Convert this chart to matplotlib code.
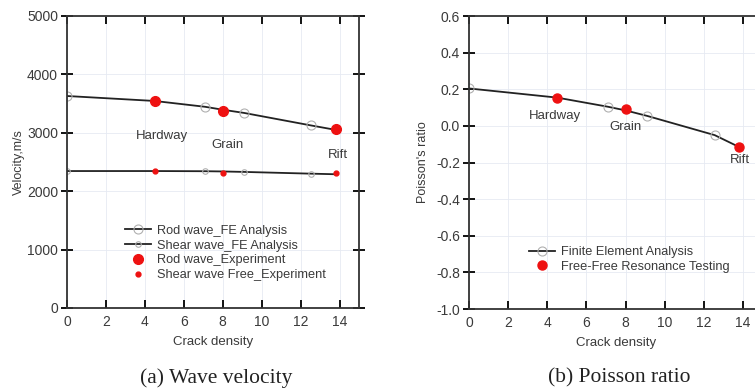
import numpy as np
import matplotlib
matplotlib.use("Agg")
import matplotlib.pyplot as plt

plt.rcParams['font.family'] = ['Liberation Sans', 'DejaVu Sans']

# crack density of the FE analysis points
fe_x = [0, 4.5, 7.1, 8.0, 9.1, 12.55, 13.8]
rod_fe = [3630, 3545, 3445, 3395, 3340, 3125, 3050]
shear_fe = [2345, 2345, 2342, 2338, 2330, 2300, 2290]
poisson_fe = [0.205, 0.155, 0.105, 0.085, 0.055, -0.050, -0.115]

# experiments (hardway, grain, rift)
exp_x = [4.5, 8.0, 13.8]
rod_exp = [3550, 3370, 3060]
shear_exp = [2345, 2305, 2320]
poisson_exp = [0.155, 0.092, -0.115]

names = ['Hardway', 'Grain', 'Rift']
name_pos_a = [(4.9, 2940), (8.25, 2790), (13.9, 2620)]
name_pos_b = [(4.4, 0.055), (8.0, -0.008), (13.85, -0.185)]

fe_marker_idx = [0, 2, 4, 5]  # FE points not hidden by experiments

txt = '#3a3a3a'
line_c = '#222222'
red = '#ee1111'


def style(ax, ylim, yticks):
    ax.set_xlim(0, 15)
    ax.set_ylim(*ylim)
    ax.set_xticks(np.arange(0, 15, 2))
    ax.set_yticks(yticks)
    ax.grid(True, color='#e6eaf2', lw=0.6)
    ax.tick_params(axis='x', direction='in', length=6, width=1.3, top=True,
                   labelsize=10, labelcolor=txt, pad=5)
    ax.tick_params(axis='y', direction='inout', length=9, width=1.3, right=True,
                   labelsize=10, labelcolor=txt, pad=2)
    for s in ax.spines.values():
        s.set_linewidth(1.3)
        s.set_color('#333333')
    ax.set_xlabel('Crack density', fontsize=9.5, color=txt, labelpad=5)


fig = plt.figure(figsize=(7.55, 3.91), dpi=100)
ax1 = fig.add_axes([0.0887, 0.2123, 0.3868, 0.7468])
ax2 = fig.add_axes([0.6212, 0.2097, 0.3889, 0.749])

# (a) wave velocity
xs = np.array(fe_x)
ax1.plot(fe_x, rod_fe, '-', color=line_c, lw=1.3, zorder=2)
ax1.plot(xs[fe_marker_idx], np.array(rod_fe)[fe_marker_idx], 'o', ms=6.5,
         mfc='none', mec='#b0b0b0', mew=0.8, zorder=2)
ax1.plot(fe_x, shear_fe, '-', color=line_c, lw=1.3, zorder=2)
ax1.plot(xs[fe_marker_idx], np.array(shear_fe)[fe_marker_idx], 'o', ms=4,
         mfc='none', mec='#b0b0b0', mew=0.8, zorder=2)
ax1.plot(exp_x, rod_exp, 'o', ms=7, color=red, zorder=3)
ax1.plot(exp_x, shear_exp, 'o', ms=3.5, color=red, zorder=3)
for n, (px, py) in zip(names, name_pos_a):
    ax1.text(px, py, n, ha='center', va='center', fontsize=9.5, color=txt)

h1 = [
    ax1.plot([], [], '-o', color=line_c, lw=1.3, ms=6.5, mfc='none', mec='#b0b0b0', mew=0.8)[0],
    ax1.plot([], [], '-o', color=line_c, lw=1.3, ms=4, mfc='none', mec='#b0b0b0', mew=0.8)[0],
    ax1.plot([], [], 'o', ms=7, color=red)[0],
    ax1.plot([], [], 'o', ms=3.5, color=red)[0],
]
ax1.legend(h1, ['Rod wave_FE Analysis', 'Shear wave_FE Analysis', 'Rod wave_Experiment',
                'Shear wave Free_Experiment'],
           loc='upper left', bbox_to_anchor=(0.2, 0.285), frameon=False, fontsize=9.2,
           handlelength=2.0, handletextpad=0.5, labelspacing=0.22, borderpad=0,
           borderaxespad=0, labelcolor=txt)
style(ax1, (0, 5000), np.arange(0, 5001, 1000))
ax1.set_ylabel('Velocity,m/s', fontsize=9, color=txt, labelpad=1)

# (b) poisson ratio
ax2.plot(fe_x, poisson_fe, '-', color=line_c, lw=1.3, zorder=2)
ax2.plot(xs[fe_marker_idx], np.array(poisson_fe)[fe_marker_idx], 'o', ms=6.5,
         mfc='none', mec='#b0b0b0', mew=0.8, zorder=2)
ax2.plot(exp_x, poisson_exp, 'o', ms=6.5, color=red, zorder=3)
for n, (px, py) in zip(names, name_pos_b):
    ax2.text(px, py, n, ha='center', va='center', fontsize=9.5, color=txt)

h2 = [
    ax2.plot([], [], '-o', color=line_c, lw=1.3, ms=6.5, mfc='none', mec='#b0b0b0', mew=0.8)[0],
    ax2.plot([], [], 'o', ms=6.5, color=red)[0],
]
ax2.legend(h2, ['Finite Element Analysis', 'Free-Free Resonance Testing'],
           loc='upper left', bbox_to_anchor=(0.205, 0.215), frameon=False, fontsize=9.2,
           handlelength=2.0, handletextpad=0.5, labelspacing=0.22, borderpad=0,
           borderaxespad=0, labelcolor=txt)
pticks = np.round(np.arange(-1.0, 0.61, 0.2), 1)
style(ax2, (-1.0, 0.6), pticks)
ax2.set_yticklabels(['%.1f' % (v + 0.0) for v in pticks])
ax2.set_ylabel("Poisson's ratio", fontsize=9, color=txt, labelpad=5)

fig.text(216 / 755, 1 - 378 / 391, '(a) Wave velocity', ha='center', va='center',
         fontsize=15.5, family=['Liberation Serif', 'DejaVu Serif'], color='#222222')
fig.text(619 / 755, 1 - 378 / 391, '(b) Poisson ratio', ha='center', va='center',
         fontsize=15.5, family=['Liberation Serif', 'DejaVu Serif'], color='#222222')

fig.savefig('out.png', dpi=100)
